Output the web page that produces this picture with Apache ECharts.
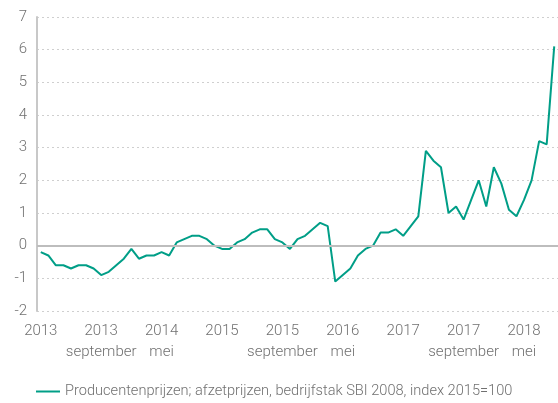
<!DOCTYPE html>
<html>
<head>
<meta charset="utf-8">
<script src="https://cdn.jsdelivr.net/npm/echarts@6/dist/echarts.min.js"></script>
<style>
  html, body { margin: 0; padding: 0; background: #fff; }
  #main { width: 558px; height: 403px; }
</style>
</head>
<body>
<div id="main"></div>
<script>
// maanden jan 2013 t/m sep 2018
const maandNamen = ['januari', 'februari', 'maart', 'april', 'mei', 'juni', 'juli',
  'augustus', 'september', 'oktober', 'november', 'december']
const jaren = [2013, 2014, 2015, 2016, 2017, 2018]
const aantalMaanden = 69

const categories = []
for (let i = 0; i < aantalMaanden; i++) {
  categories.push(jaren[Math.floor(i / 12)] + ' ' + maandNamen[i % 12])
}

// jaar-op-jaar mutatie (%)
const producentenprijzen = [
  -0.2, -0.3, -0.6, -0.6, -0.7, -0.6, -0.6, -0.7, -0.9, -0.8, -0.6, -0.4,
  -0.1, -0.4, -0.3, -0.3, -0.2, -0.3, 0.1, 0.2, 0.3, 0.3, 0.2, 0.0,
  -0.1, -0.1, 0.1, 0.2, 0.4, 0.5, 0.5, 0.2, 0.1, -0.1, 0.2, 0.3,
  0.5, 0.7, 0.6, -1.1, -0.9, -0.7, -0.3, -0.1, 0.0, 0.4, 0.4, 0.5,
  0.3, 0.6, 0.9, 2.9, 2.6, 2.4, 1.0, 1.2, 0.8, 1.4, 2.0, 1.2,
  2.4, 1.9, 1.1, 0.9, 1.4, 2.0, 3.2, 3.1, 6.1
]

const serieNaam = 'Producentenprijzen; afzetprijzen, bedrijfstak SBI 2008, index 2015=100'
const fontFam = 'Roboto, sans-serif'
const tekstKleur = '#707070'

const chart = echarts.init(document.getElementById('main'), null, { renderer: 'canvas' })

const option = {
  backgroundColor: '#fff',
  animation: false,
  grid: {
    left: 37,
    top: 17,
    width: 521,
    height: 294
  },
  legend: {
    bottom: -1,
    left: 31,
    icon: 'rect',
    itemWidth: 24,
    itemHeight: 2,
    itemGap: 12,
    textStyle: { color: tekstKleur, fontSize: 14.6, fontWeight: 300, fontFamily: fontFam },
    data: [serieNaam]
  },
  xAxis: {
    type: 'category',
    data: categories,
    boundaryGap: true,
    axisLine: { show: false },
    axisTick: { show: false },
    axisLabel: {
      interval: 7,
      color: tekstKleur,
      fontSize: 15,
      fontWeight: 300,
      fontFamily: fontFam,
      lineHeight: 21,
      margin: 10,
      formatter: function (v) {
        const p = v.split(' ')
        return p[1] === 'januari' ? p[0] : p[0] + '\n' + p[1]
      }
    }
  },
  yAxis: {
    type: 'value',
    min: -2,
    max: 7,
    interval: 1,
    axisLine: { show: true, lineStyle: { color: '#c8c8c8', width: 2 } },
    axisTick: { show: false },
    axisLabel: { color: tekstKleur, fontSize: 15, fontWeight: 300, fontFamily: fontFam, margin: 10 },
    splitLine: { show: true, lineStyle: { color: '#cfcfcf', type: [2, 3], width: 1 } }
  },
  series: [
    {
      name: serieNaam,
      type: 'line',
      data: producentenprijzen,
      symbol: 'none',
      lineStyle: { color: '#009e87', width: 2 },
      itemStyle: { color: '#009e87' },
      markLine: {
        silent: true,
        symbol: 'none',
        label: { show: false },
        lineStyle: { color: '#bdbdbd', type: 'solid', width: 2 },
        data: [{ yAxis: 0 }]
      },
      z: 3
    }
  ]
}

chart.setOption(option)
</script>
</body>
</html>
